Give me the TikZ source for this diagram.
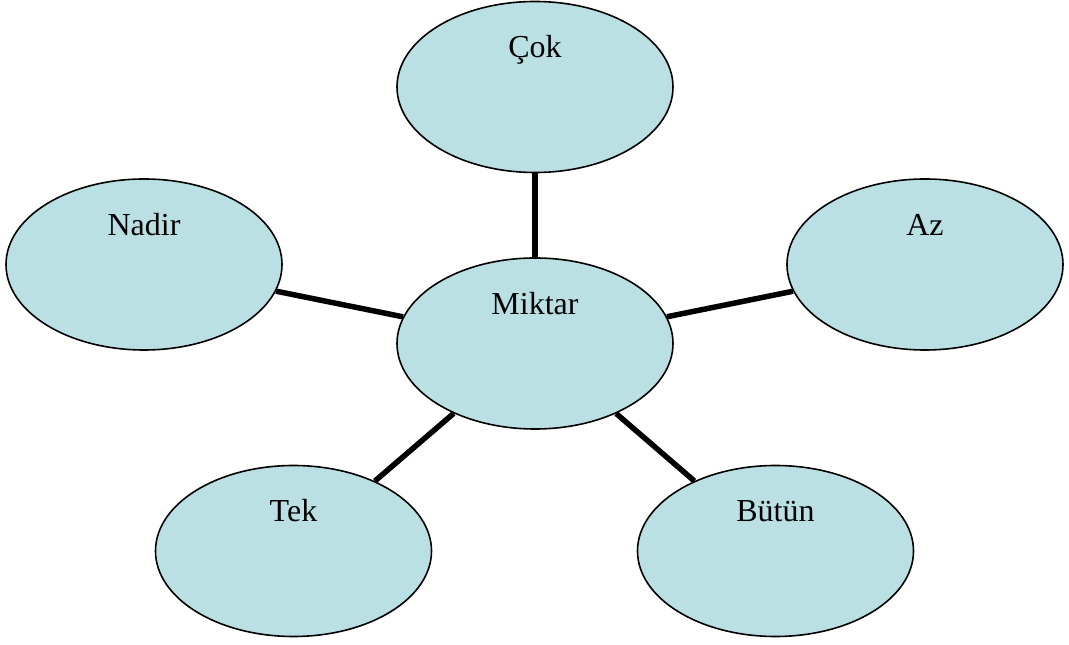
\documentclass[tikz,border=0pt]{standalone}
\usepackage{fontspec}
\setmainfont{Liberation Serif}
\usetikzlibrary{shapes.geometric,backgrounds}
\definecolor{bubble}{RGB}{187,224,227}
\tikzset{
  bubble/.style={ellipse, draw=black, line width=1.6pt, fill=bubble,
    minimum width=276pt, minimum height=171pt, inner sep=0pt},
  lbl/.style={anchor=base, inner sep=0pt, font=\fontsize{32}{38}\selectfont},
  link/.style={line width=5.5pt}
}
\begin{document}
\begin{tikzpicture}[x=1pt,y=1pt]
\useasboundingbox (0,0) rectangle (1069,645);
\node[bubble] (cok)    at (535,558)   {};
\node[bubble] (nadir)  at (144,380.5) {};
\node[bubble] (az)     at (925,380.5) {};
\node[bubble] (miktar) at (535,301.5) {};
\node[bubble] (tek)    at (293.5,94)  {};
\node[bubble] (butun)  at (775.5,94)  {};
\node[lbl] (tcok)    at ([yshift=29pt]cok.center)    {Çok};
\node[lbl] (tnadir)  at ([yshift=29pt]nadir.center)  {Nadir};
\node[lbl] (taz)     at ([yshift=29pt]az.center)     {Az};
\node[lbl] (tmiktar) at ([yshift=29pt]miktar.center) {Miktar};
\node[lbl] (ttek)    at ([yshift=29pt]tek.center)    {Tek};
\node[lbl] (tbutun)  at ([yshift=29pt]butun.center)  {Bütün};
\begin{pgfonlayer}{background}
\draw[link] (miktar) -- (cok);
\draw[link] (miktar) -- (nadir);
\draw[link] (miktar) -- (az);
\draw[link] (miktar) -- (tek);
\draw[link] (miktar) -- (butun);
\end{pgfonlayer}
\end{tikzpicture}
\end{document}
